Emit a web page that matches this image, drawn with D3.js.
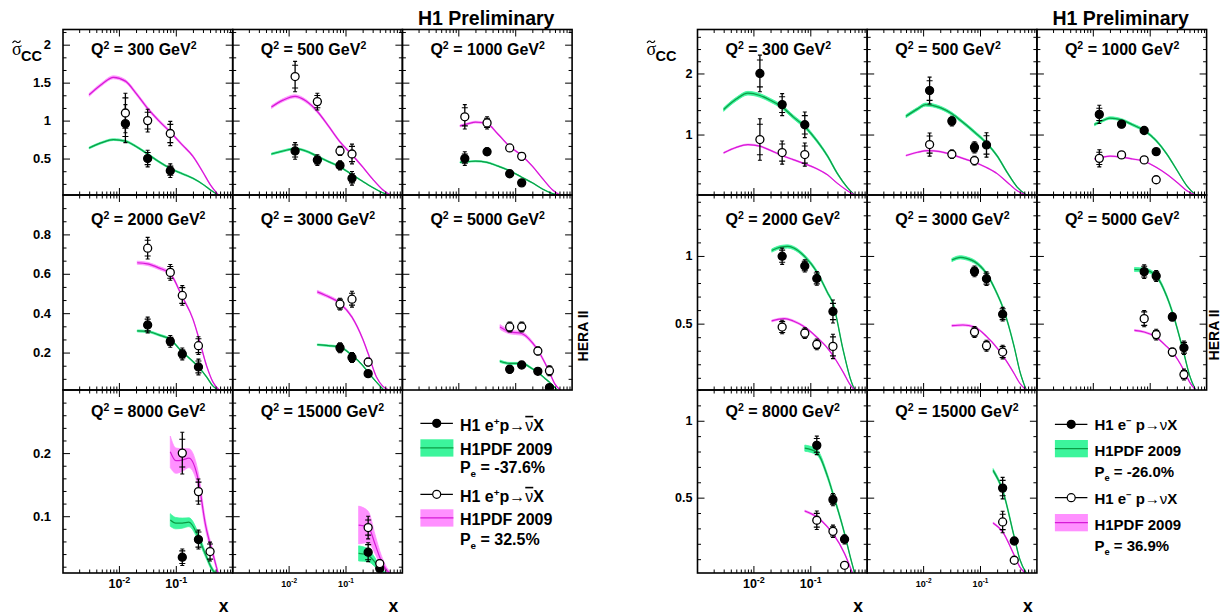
<!DOCTYPE html>
<html>
<head>
<meta charset="utf-8">
<script src="https://cdnjs.cloudflare.com/ajax/libs/d3/7.8.5/d3.min.js"></script>
<title>H1 CC reduced cross section</title>
<style>
  body { margin: 0; background: #fff; }
  text { font-family: "Liberation Sans", Arial, sans-serif; font-weight: bold; fill: #000; }
</style>
</head>
<body>
<script>
var q2 = [300, 500, 1000, 2000, 3000, 5000, 8000, 15000];
var xMajor = [0.01, 0.1];
var xDomain = [0.00104, 1];

// y axis per row: domain, labelled ticks, minor divisions
var posYDomain = [[0.02, 2.2], [0.01, 1.0], [0.01, 0.3]];
var posYTicks = [[0.5, 1, 1.5, 2], [0.2, 0.4, 0.6, 0.8], [0.1, 0.2]];
var posYMinor = [3, 3, 5];
var negYDomain = [[0.01, 2.72], [0.01, 1.45], [0.01, 1.2]];
var negYTicks = [[1, 2], [0.5, 1], [0.5, 1]];
var negYMinor = [5, 5, 5];

// e+p data, one list per Q2: [x, sigma, stat, total]
var posFilled = [
  [[0.013,0.96,0.17,0.25],[0.032,0.50,0.08,0.11],[0.08,0.34,0.06,0.09]],
  [[0.013,0.60,0.08,0.11],[0.032,0.48,0.05,0.07],[0.08,0.41,0.04,0.06],[0.13,0.24,0.06,0.09]],
  [[0.013,0.50,0.06,0.09],[0.032,0.59,0.04,0.05],[0.08,0.30,0.01,0.015],[0.13,0.18,0.01,0.015]],
  [[0.032,0.34,0.03,0.04],[0.08,0.257,0.02,0.03],[0.13,0.193,0.02,0.03],[0.25,0.127,0.03,0.04]],
  [[0.08,0.224,0.02,0.025],[0.13,0.175,0.02,0.025],[0.25,0.093,0.01,0.013]],
  [[0.08,0.115,0.015,0.02],[0.13,0.137,0.008,0.01],[0.25,0.105,0.008,0.01],[0.4,0.022,0.006,0.008]],
  [[0.13,0.035,0.01,0.013],[0.25,0.063,0.012,0.015]],
  [[0.25,0.043,0.012,0.015],[0.4,0.017,0.004,0.005]]
];
var posOpen = [
  [[0.013,1.10,0.2,0.26],[0.032,1.00,0.11,0.15],[0.08,0.83,0.12,0.16]],
  [[0.013,1.58,0.15,0.2],[0.032,1.25,0.08,0.11],[0.08,0.60,0.05,0.06],[0.13,0.56,0.1,0.13]],
  [[0.013,1.05,0.12,0.16],[0.032,0.97,0.06,0.08],[0.08,0.64,0.02,0.03],[0.13,0.53,0.04,0.05]],
  [[0.032,0.73,0.04,0.055],[0.08,0.607,0.03,0.04],[0.13,0.49,0.04,0.05],[0.25,0.235,0.035,0.045]],
  [[0.08,0.446,0.025,0.03],[0.13,0.471,0.03,0.04],[0.25,0.152,0.015,0.02]],
  [[0.08,0.33,0.02,0.025],[0.13,0.33,0.02,0.025],[0.25,0.208,0.015,0.02],[0.4,0.108,0.02,0.025]],
  [[0.13,0.200,0.022,0.033],[0.25,0.139,0.015,0.02],[0.4,0.044,0.012,0.015]],
  [[0.25,0.082,0.012,0.018],[0.4,0.025,0.004,0.006]]
];
// H1PDF 2009 predictions: [x, sigma, band half width]
var posGreen = [
  [[0.003,0.64,0.012],[0.005,0.71,0.012],[0.008,0.75,0.012],[0.013,0.73,0.012],[0.02,0.66,0.012],[0.032,0.56,0.012],[0.05,0.46,0.012],[0.08,0.37,0.01],[0.13,0.30,0.01],[0.2,0.24,0.008],[0.3,0.16,0.006],[0.4,0.09,0.005],[0.56,0.02,0.003]],
  [[0.005,0.56,0.012],[0.008,0.60,0.012],[0.013,0.63,0.012],[0.02,0.60,0.012],[0.032,0.53,0.012],[0.05,0.46,0.01],[0.08,0.39,0.01],[0.13,0.29,0.008],[0.2,0.20,0.006],[0.3,0.12,0.005],[0.45,0.05,0.003],[0.65,0.01,0.002]],
  [[0.0107,0.45,0.008],[0.015,0.46,0.008],[0.02,0.465,0.008],[0.032,0.45,0.008],[0.05,0.40,0.008],[0.08,0.34,0.007],[0.13,0.255,0.006],[0.2,0.18,0.005],[0.3,0.10,0.004],[0.45,0.04,0.003],[0.64,0.01,0.002]],
  [[0.021,0.31,0.005],[0.032,0.307,0.005],[0.05,0.29,0.005],[0.08,0.266,0.005],[0.13,0.203,0.004],[0.2,0.155,0.004],[0.25,0.127,0.003],[0.35,0.075,0.003],[0.45,0.03,0.002],[0.58,0.01,0.002]],
  [[0.032,0.24,0.004],[0.05,0.235,0.004],[0.08,0.228,0.004],[0.13,0.186,0.004],[0.2,0.135,0.003],[0.25,0.10,0.003],[0.35,0.05,0.002],[0.47,0.01,0.002]],
  [[0.054,0.156,0.006],[0.08,0.145,0.005],[0.13,0.145,0.005],[0.2,0.118,0.004],[0.25,0.10,0.004],[0.33,0.07,0.003],[0.4,0.05,0.003],[0.55,0.01,0.002]],
  [[0.08,0.094,0.01],[0.1,0.089,0.009],[0.13,0.089,0.008],[0.17,0.0905,0.007],[0.25,0.067,0.006],[0.33,0.04,0.004],[0.45,0.014,0.003],[0.52,0.008,0.002]],
  [[0.17,0.041,0.012],[0.25,0.038,0.01],[0.33,0.027,0.007],[0.4,0.017,0.004],[0.55,0.006,0.002]]
];
var posMag = [
  [[0.003,1.34,0.02],[0.005,1.48,0.02],[0.008,1.57,0.02],[0.013,1.52,0.02],[0.02,1.36,0.02],[0.032,1.16,0.02],[0.05,1.0,0.018],[0.08,0.85,0.016],[0.13,0.68,0.014],[0.2,0.53,0.012],[0.3,0.32,0.01],[0.4,0.16,0.008],[0.56,0.02,0.004]],
  [[0.005,1.18,0.02],[0.008,1.27,0.02],[0.013,1.32,0.02],[0.02,1.26,0.02],[0.032,1.12,0.018],[0.05,0.93,0.016],[0.08,0.72,0.014],[0.13,0.55,0.012],[0.2,0.39,0.01],[0.3,0.23,0.008],[0.45,0.09,0.005],[0.65,0.01,0.003]],
  [[0.0107,0.93,0.012],[0.015,0.96,0.012],[0.02,0.98,0.012],[0.032,0.96,0.012],[0.05,0.82,0.01],[0.08,0.66,0.01],[0.13,0.54,0.009],[0.2,0.40,0.008],[0.3,0.24,0.006],[0.45,0.09,0.004],[0.64,0.01,0.002]],
  [[0.021,0.656,0.008],[0.032,0.65,0.008],[0.05,0.63,0.008],[0.08,0.60,0.007],[0.13,0.483,0.006],[0.2,0.37,0.005],[0.25,0.28,0.005],[0.35,0.13,0.004],[0.45,0.05,0.003],[0.58,0.01,0.002]],
  [[0.032,0.508,0.008],[0.045,0.49,0.007],[0.08,0.45,0.007],[0.13,0.38,0.006],[0.2,0.27,0.005],[0.25,0.195,0.005],[0.35,0.076,0.003],[0.45,0.03,0.002],[0.6,0.008,0.002]],
  [[0.054,0.33,0.012],[0.08,0.305,0.01],[0.13,0.297,0.009],[0.2,0.25,0.008],[0.25,0.212,0.007],[0.33,0.15,0.006],[0.4,0.10,0.005],[0.5,0.04,0.003],[0.63,0.008,0.002]],
  [[0.08,0.202,0.025],[0.1,0.188,0.02],[0.13,0.189,0.018],[0.17,0.192,0.015],[0.25,0.156,0.012],[0.33,0.088,0.008],[0.45,0.04,0.005],[0.56,0.008,0.003]],
  [[0.17,0.086,0.03],[0.25,0.083,0.025],[0.33,0.056,0.015],[0.4,0.035,0.01],[0.5,0.018,0.005],[0.65,0.006,0.003]]
];

// e-p data
var negFilled = [
  [[0.013,2.0,0.22,0.3],[0.032,1.49,0.13,0.18],[0.08,1.16,0.15,0.21]],
  [[0.013,1.72,0.16,0.22],[0.032,1.22,0.06,0.08],[0.08,0.79,0.07,0.09],[0.13,0.83,0.15,0.2]],
  [[0.013,1.33,0.1,0.15],[0.032,1.17,0.04,0.06],[0.08,1.066,0.02,0.03],[0.13,0.72,0.04,0.05]],
  [[0.032,0.998,0.045,0.06],[0.08,0.926,0.035,0.045],[0.13,0.834,0.04,0.05],[0.25,0.59,0.06,0.085]],
  [[0.08,0.886,0.03,0.04],[0.13,0.832,0.04,0.05],[0.25,0.57,0.04,0.05]],
  [[0.08,0.884,0.04,0.05],[0.13,0.852,0.03,0.04],[0.25,0.55,0.025,0.03],[0.4,0.322,0.04,0.05]],
  [[0.13,0.84,0.045,0.06],[0.25,0.487,0.03,0.04],[0.4,0.229,0.02,0.03]],
  [[0.25,0.562,0.05,0.07],[0.4,0.218,0.01,0.015]]
];
var negOpen = [
  [[0.013,0.918,0.25,0.34],[0.032,0.705,0.14,0.19],[0.08,0.672,0.14,0.19]],
  [[0.013,0.836,0.14,0.19],[0.032,0.677,0.05,0.07],[0.08,0.574,0.05,0.07]],
  [[0.013,0.61,0.1,0.14],[0.032,0.667,0.04,0.05],[0.08,0.585,0.02,0.03],[0.13,0.26,0.02,0.03]],
  [[0.032,0.475,0.04,0.05],[0.08,0.43,0.03,0.04],[0.13,0.347,0.03,0.04],[0.25,0.332,0.07,0.09]],
  [[0.08,0.438,0.03,0.04],[0.13,0.337,0.03,0.04],[0.25,0.29,0.04,0.05]],
  [[0.08,0.537,0.05,0.06],[0.13,0.419,0.03,0.04],[0.25,0.29,0.025,0.03],[0.4,0.124,0.03,0.04]],
  [[0.13,0.353,0.045,0.06],[0.25,0.281,0.03,0.04],[0.4,0.06,0.005,0.008]],
  [[0.25,0.342,0.05,0.07],[0.4,0.093,0.005,0.008]]
];
var negGreen = [
  [[0.003,1.41,0.03],[0.005,1.58,0.03],[0.008,1.677,0.03],[0.013,1.64,0.03],[0.02,1.56,0.03],[0.032,1.45,0.03],[0.05,1.29,0.03],[0.08,1.13,0.03],[0.13,0.9,0.025],[0.2,0.65,0.02],[0.3,0.36,0.015],[0.45,0.13,0.008],[0.6,0.01,0.004]],
  [[0.005,1.30,0.025],[0.008,1.42,0.025],[0.011,1.49,0.025],[0.02,1.44,0.025],[0.032,1.34,0.025],[0.05,1.2,0.025],[0.08,1.04,0.025],[0.13,0.86,0.02],[0.2,0.65,0.018],[0.3,0.38,0.014],[0.45,0.14,0.008],[0.65,0.01,0.004]],
  [[0.0107,1.164,0.02],[0.015,1.23,0.02],[0.02,1.27,0.02],[0.032,1.24,0.02],[0.05,1.16,0.02],[0.08,1.066,0.02],[0.13,0.90,0.018],[0.2,0.68,0.015],[0.3,0.42,0.012],[0.45,0.16,0.007],[0.64,0.01,0.003]],
  [[0.021,1.04,0.012],[0.03,1.065,0.012],[0.04,1.07,0.012],[0.05,1.06,0.012],[0.08,0.995,0.012],[0.13,0.883,0.011],[0.2,0.73,0.01],[0.25,0.65,0.01],[0.38,0.30,0.008],[0.5,0.1,0.005],[0.6,0.01,0.003]],
  [[0.032,0.97,0.012],[0.045,0.99,0.012],[0.06,0.98,0.012],[0.08,0.958,0.012],[0.13,0.87,0.011],[0.2,0.72,0.01],[0.25,0.624,0.01],[0.4,0.327,0.008],[0.5,0.15,0.005],[0.65,0.01,0.003]],
  [[0.054,0.90,0.015],[0.08,0.897,0.014],[0.13,0.852,0.013],[0.2,0.70,0.012],[0.25,0.586,0.011],[0.4,0.278,0.008],[0.5,0.12,0.005],[0.64,0.01,0.003]],
  [[0.08,0.822,0.02],[0.13,0.796,0.018],[0.2,0.64,0.015],[0.25,0.526,0.013],[0.4,0.266,0.009],[0.5,0.12,0.006],[0.6,0.01,0.003]],
  [[0.17,0.677,0.012],[0.25,0.547,0.011],[0.4,0.244,0.008],[0.5,0.1,0.005],[0.65,0.01,0.003]]
];
var negMag = [
  [[0.003,0.70,0.01],[0.005,0.79,0.01],[0.008,0.836,0.01],[0.013,0.81,0.01],[0.02,0.74,0.01],[0.032,0.656,0.01],[0.05,0.59,0.01],[0.08,0.52,0.01],[0.13,0.44,0.008],[0.2,0.34,0.007],[0.3,0.2,0.005],[0.45,0.08,0.004],[0.6,0.01,0.002]],
  [[0.005,0.656,0.01],[0.008,0.71,0.01],[0.012,0.738,0.01],[0.02,0.72,0.01],[0.032,0.67,0.01],[0.05,0.61,0.01],[0.08,0.546,0.009],[0.13,0.46,0.008],[0.2,0.36,0.007],[0.3,0.22,0.005],[0.45,0.08,0.004],[0.65,0.01,0.002]],
  [[0.0107,0.60,0.008],[0.015,0.63,0.008],[0.02,0.645,0.008],[0.032,0.63,0.008],[0.05,0.60,0.008],[0.08,0.563,0.007],[0.13,0.464,0.006],[0.2,0.35,0.005],[0.3,0.22,0.004],[0.45,0.08,0.003],[0.64,0.01,0.002]],
  [[0.021,0.52,0.007],[0.035,0.537,0.007],[0.05,0.52,0.007],[0.08,0.475,0.006],[0.13,0.40,0.006],[0.2,0.32,0.005],[0.25,0.265,0.005],[0.38,0.14,0.004],[0.5,0.05,0.003],[0.6,0.01,0.002]],
  [[0.032,0.485,0.007],[0.05,0.49,0.007],[0.08,0.475,0.006],[0.13,0.406,0.006],[0.2,0.32,0.005],[0.25,0.265,0.005],[0.4,0.13,0.004],[0.5,0.06,0.003],[0.65,0.01,0.002]],
  [[0.054,0.45,0.006],[0.08,0.438,0.006],[0.13,0.40,0.006],[0.2,0.33,0.005],[0.25,0.29,0.005],[0.4,0.154,0.004],[0.5,0.07,0.003],[0.64,0.01,0.002]],
  [[0.08,0.413,0.006],[0.13,0.374,0.006],[0.2,0.31,0.005],[0.25,0.266,0.005],[0.4,0.136,0.004],[0.55,0.01,0.002]],
  [[0.17,0.335,0.006],[0.25,0.277,0.005],[0.4,0.125,0.004],[0.5,0.05,0.003],[0.62,0.01,0.002]]
];

var polarisation = ["-37.6%", "32.5%", "-26.0%", "36.9%"];

var greenBand = "#3cf59c", greenLine = "#0c9c45",
    magBand = "#ff90ff", magLine = "#d61ad6";

var W = 1221, H = 616;
var rowTop = [29.5, 195, 390], rowBot = [195, 390, 573];

var svg = d3.select("body").append("svg")
    .attr("width", W)
    .attr("height", H);

// small helper: text made of tspans [text, dy, size, weight, deco]
function rich(x, y, size, parts, anchor) {
  var t = svg.append("text").attr("x", x).attr("y", y)
      .style("font-size", size + "px")
      .attr("text-anchor", anchor || "start");
  parts.forEach(function(p) {
    var s = t.append("tspan").text(p[0]);
    if (p[1]) s.attr("dy", p[1]);
    if (p[2]) s.style("font-size", p[2] + "px");
    if (p[3]) s.style("font-weight", p[3]);
    if (p[4]) s.style("text-decoration", p[4]);
  });
  return t;
}

function cleanAxis(a) {
  a.attr("font-family", null).attr("font-size", null);
  a.select(".domain").remove();
  a.selectAll(".tick line").attr("stroke", "#000").attr("stroke-width", 1);
  return a;
}

var figs = [
  {id: "p", x0: 63, colW: 169.7, yDom: posYDomain, yTk: posYTicks, yDiv: posYMinor,
   filled: posFilled, open: posOpen, green: posGreen, mag: posMag, labPad: 12, labSize: 13},
  {id: "n", x0: 697.5, colW: 169.7, yDom: negYDomain, yTk: negYTicks, yDiv: negYMinor,
   filled: negFilled, open: negOpen, green: negGreen, mag: negMag, labPad: 5, labSize: 12.5}
];

function drawPanel(f, i) {
  var r = Math.floor(i / 3), c = i % 3;
  var left = f.x0 + c * f.colW, right = left + f.colW;
  var top = rowTop[r], bot = rowBot[r];
  var x = d3.scaleLog().domain(xDomain).range([left, right]);
  var y = d3.scaleLinear().domain(f.yDom[r]).range([bot, top]);
  var g = svg.append("g");
  var cid = "clip-" + f.id + i;
  g.append("clipPath").attr("id", cid).append("rect")
    .attr("x", left).attr("y", top).attr("width", f.colW).attr("height", bot - top);
  var plot = g.append("g").attr("clip-path", "url(#" + cid + ")");

  [[f.green[i], greenBand, greenLine], [f.mag[i], magBand, magLine]].forEach(function(s) {
    var area = d3.area().curve(d3.curveMonotoneX)
      .x(function(d){ return x(d[0]); })
      .y0(function(d){ return y(d[1] - d[2]); })
      .y1(function(d){ return y(d[1] + d[2]); });
    var line = d3.line().curve(d3.curveMonotoneX)
      .x(function(d){ return x(d[0]); })
      .y(function(d){ return y(d[1]); });
    plot.append("path").attr("d", area(s[0])).attr("fill", s[1]).attr("stroke", s[1]).attr("stroke-width", 0.8);
    plot.append("path").attr("d", line(s[0])).attr("fill", "none").attr("stroke", s[2]).attr("stroke-width", 1.2);
  });

  // points with stat (inner tick) and total (bar end) errors
  [[f.filled[i], "#000"], [f.open[i], "#fff"]].forEach(function(s) {
    var pts = plot.selectAll(null).data(s[0]).enter().append("g");
    pts.append("line")
      .attr("x1", function(d){ return x(d[0]); }).attr("x2", function(d){ return x(d[0]); })
      .attr("y1", function(d){ return y(d[1] - d[3]); }).attr("y2", function(d){ return y(d[1] + d[3]); })
      .attr("stroke", "#000").attr("stroke-width", 1.3);
    [-1, 1].forEach(function(sg) {
      pts.append("line")
        .attr("x1", function(d){ return x(d[0]) - 3; }).attr("x2", function(d){ return x(d[0]) + 3; })
        .attr("y1", function(d){ return y(d[1] + sg * d[2]); }).attr("y2", function(d){ return y(d[1] + sg * d[2]); })
        .attr("stroke", "#000").attr("stroke-width", 1.1);
      pts.append("line")
        .attr("x1", function(d){ return x(d[0]) - 2; }).attr("x2", function(d){ return x(d[0]) + 2; })
        .attr("y1", function(d){ return y(d[1] + sg * d[3]); }).attr("y2", function(d){ return y(d[1] + sg * d[3]); })
        .attr("stroke", "#000").attr("stroke-width", 1.1);
    });
    pts.append("circle")
      .attr("cx", function(d){ return x(d[0]); })
      .attr("cy", function(d){ return y(d[1]); })
      .attr("r", 4)
      .attr("fill", s[1]).attr("stroke", "#000").attr("stroke-width", 1.3);
  });

  // y ticks
  var maj = f.yTk[r], step = maj[1] - maj[0], ms = step / f.yDiv[r], dom = f.yDom[r];
  var yMinor = [];
  for (var k = Math.ceil(dom[0] / ms - 1e-6); k * ms <= dom[1] + 1e-9; k++) {
    var q = k * ms / step;
    if (Math.abs(q - Math.round(q)) > 1e-6) yMinor.push(k * ms);
  }
  var none = function(){ return ""; };
  var ya = cleanAxis(g.append("g").attr("transform", "translate(" + left + ",0)")
    .call(d3.axisLeft(y).tickValues(maj).tickSize(-7).tickPadding(f.labPad)
      .tickFormat(c === 0 ? d3.format("~g") : none)));
  ya.selectAll("text").style("font-size", f.labSize + "px");
  cleanAxis(g.append("g").attr("transform", "translate(" + left + ",0)")
    .call(d3.axisLeft(y).tickValues(yMinor).tickSize(-3.5).tickFormat(none)));
  cleanAxis(g.append("g").attr("transform", "translate(" + right + ",0)")
    .call(d3.axisRight(y).tickValues(maj).tickSize(-7).tickFormat(none)));
  cleanAxis(g.append("g").attr("transform", "translate(" + right + ",0)")
    .call(d3.axisRight(y).tickValues(yMinor).tickSize(-3.5).tickFormat(none)));

  // x ticks (log)
  var xMinor = [];
  [0.001, 0.01, 0.1].forEach(function(dd) {
    d3.range(2, 10).forEach(function(m) {
      var v = dd * m;
      if (v >= xDomain[0] && v <= xDomain[1]) xMinor.push(v);
    });
  });
  var xa = cleanAxis(g.append("g").attr("transform", "translate(0," + bot + ")")
    .call(d3.axisBottom(x).tickValues(xMajor).tickSize(-7).tickPadding(c === 0 ? 6 : 7.5).tickFormat(none)));
  if (r === 2) {
    var fs = c === 0 ? 12.5 : 9;
    xa.selectAll(".tick text").style("font-size", fs + "px").each(function(d) {
      var t = d3.select(this);
      t.append("tspan").text("10");
      t.append("tspan").text(Math.round(Math.log10(d)))
        .attr("dy", -fs * 0.42).style("font-size", (fs * 0.72) + "px");
    });
  }
  cleanAxis(g.append("g").attr("transform", "translate(0," + bot + ")")
    .call(d3.axisBottom(x).tickValues(xMinor).tickSize(-3.5).tickFormat(none)));
  cleanAxis(g.append("g").attr("transform", "translate(0," + top + ")")
    .call(d3.axisTop(x).tickValues(xMajor).tickSize(-7).tickFormat(none)));
  cleanAxis(g.append("g").attr("transform", "translate(0," + top + ")")
    .call(d3.axisTop(x).tickValues(xMinor).tickSize(-3.5).tickFormat(none)));

  g.append("rect").attr("x", left).attr("y", top)
    .attr("width", f.colW).attr("height", bot - top)
    .attr("fill", "none").attr("stroke", "#000").attr("stroke-width", 1.6);

  var qy = [54.5, 224.5, 417][r];
  rich(left + 28, qy, 16, [["Q"], ["2", -6, 10.5], [" = " + q2[i] + " GeV", 6, 16], ["2", -6, 10.5]]);

  if (r === 2) {
    svg.append("text").attr("x", right - 9).attr("y", 612)
      .attr("text-anchor", "middle").style("font-size", "17.5px").text("x");
  }
}

figs.forEach(function(f) {
  d3.range(q2.length).forEach(function(i) { drawPanel(f, i); });

  // y title: sigma with a tilde drawn as a path
  var sx = f.x0 - 51;
  svg.append("text").attr("x", sx).attr("y", 55)
    .style("font-family", "'Liberation Serif', serif").style("font-weight", "normal")
    .style("font-size", "18px").text("σ");
  svg.append("path")
    .attr("d", "M" + (sx + 0.5) + ",43 q2,-3.2 4,-1.2 t4,-1.2")
    .attr("fill", "none").attr("stroke", "#000").attr("stroke-width", 1.1);
  svg.append("text").attr("x", sx + 9).attr("y", 60.5)
    .style("font-size", "14.5px").text("CC");

  // title
  svg.append("text").attr("x", f.x0 + 2 * f.colW + 15.5).attr("y", 24.5)
    .style("font-size", "19.5px").text("H1 Preliminary");
});

// HERA II side labels
[[588, 336], [1218.5, 335]].forEach(function(p) {
  svg.append("text").attr("transform", "translate(" + p[0] + "," + p[1] + ") rotate(-90)")
    .attr("text-anchor", "middle").style("font-size", "14px").text("HERA II");
});

// legends
function legend(lx, fs, ys, charge, pols) {
  var tx = lx + 39.5;
  [[ys[0], "#000", ys[1], greenBand, greenLine, ys[2], pols[0]],
   [ys[3], "#fff", ys[4], magBand, magLine, ys[5], pols[1]]].forEach(function(e) {
    svg.append("line").attr("x1", lx).attr("x2", lx + 32.5)
      .attr("y1", e[0]).attr("y2", e[0]).attr("stroke", "#000").attr("stroke-width", 1.2);
    svg.append("circle").attr("cx", lx + 16.3).attr("cy", e[0]).attr("r", 4)
      .attr("fill", e[1]).attr("stroke", "#000").attr("stroke-width", 1.2);
    var parts = charge === "+"
      ? [["H1 e"], ["+", -6, fs * 0.62], ["p", 6, fs], ["\u2192", 0, fs, "normal"], ["\u03bd", 0, fs, "normal", "overline"], ["X", 0, fs]]
      : [["H1 e"], ["\u2212", -6, fs * 0.62], [" p", 6, fs], ["\u2192", 0, fs, "normal"], ["\u03bd", 0, fs, "normal"], ["X", 0, fs]];
    rich(tx, e[0] + (fs > 15.5 ? 7.5 : 6), fs, parts);
    svg.append("rect").attr("x", lx).attr("y", e[2]).attr("width", 33).attr("height", 17.3)
      .attr("fill", e[3]);
    svg.append("line").attr("x1", lx).attr("x2", lx + 33)
      .attr("y1", e[2] + 8.6).attr("y2", e[2] + 8.6).attr("stroke", e[4]).attr("stroke-width", 1.3);
    rich(tx, e[2] + 15.5, fs, [["H1PDF 2009"]]);
    rich(tx, e[5], fs, [["P"], ["e", 4, fs * 0.62], [" = " + e[6], -4, fs]]);
  });
}
legend(figs[0].x0 + 2 * figs[0].colW + 18, 16,
  [423.3, 439.3, 473, 494.3, 509.3, 545], "+", [polarisation[0], polarisation[1]]);
legend(figs[1].x0 + 2 * figs[1].colW + 18, 15,
  [424.3, 440, 477.3, 497.7, 514, 550.7], "-", [polarisation[2], polarisation[3]]);
</script>
</body>
</html>
